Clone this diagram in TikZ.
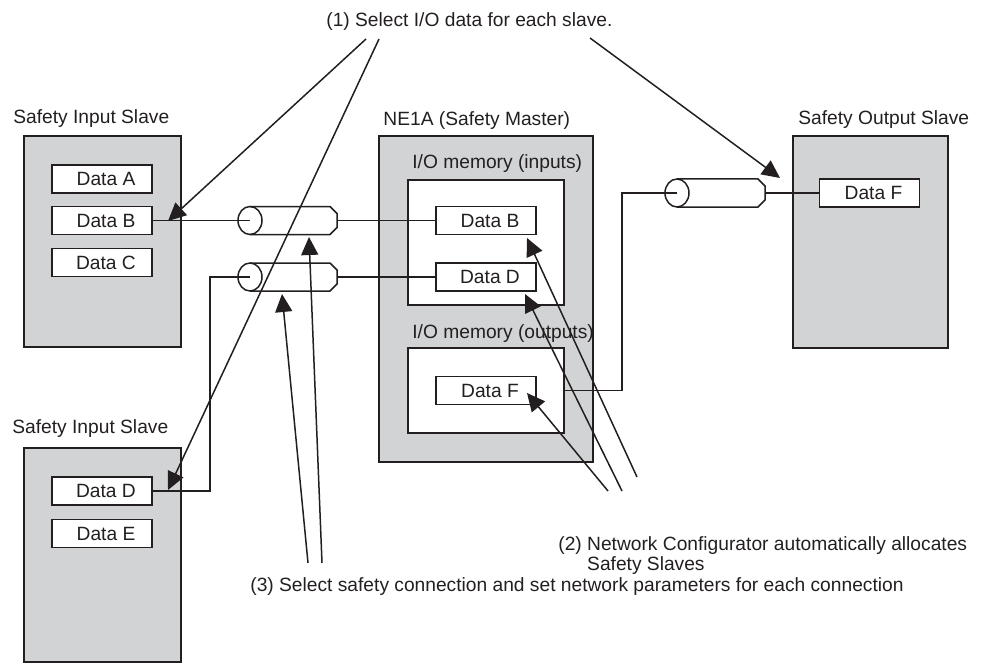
\documentclass[tikz,border=0pt]{standalone}
\usepackage{fontspec}
\setmainfont{Liberation Sans}
\usetikzlibrary{arrows.meta,fit}
\definecolor{boxgray}{RGB}{209,211,212}
\definecolor{ink}{RGB}{35,31,32}
\newcommand\mycyl[4]{%
  \coordinate (#1-l) at (#2,#3);
  \coordinate (#1-r) at (#4,#3);
  \draw[wire] (#2,#3-14) -- (#4-7,#3-14) -- (#4,#3-7) -- (#4,#3+7) -- (#4-7,#3+14) -- (#2,#3+14);
  \draw[wire] (#2,#3) ellipse [x radius=6pt, y radius=7pt];
}
\begin{document}
\begin{tikzpicture}[x=0.5pt,y=-0.5pt,
  font=\fontsize{9.6}{11}\selectfont, text=ink,
  wire/.style={draw=ink, line width=0.75pt},
  arr/.style={wire, -{Triangle[length=9pt,width=8.5pt]}},
  unitbox/.style={draw=ink, line width=1pt, fill=boxgray, inner sep=0pt},
  membox/.style={draw=ink, line width=0.9pt, fill=white, inner sep=0pt},
  databox/.style={draw=ink, line width=0.9pt, fill=white, inner sep=0pt,
    minimum width=50pt, minimum height=14pt, execute at begin node=\hspace*{4pt}},
  lbl/.style={inner sep=0pt, anchor=base west}]
\useasboundingbox (0,0) rectangle (983,663);

% units
\node[unitbox, fit={(24,136) (181,347)}] (s1) {};
\node[unitbox, fit={(24,448) (181,662)}] (s2) {};
\node[unitbox, fit={(379,136) (593,462)}] (m) {};
\node[unitbox, fit={(793,136) (948,348)}] (o) {};
\node[membox, fit={(408,180) (564,305)}] (min) {};
\node[membox, fit={(408,348) (564,433)}] (mout) {};

% labels
\node[lbl] (s1lbl) at (13,124) {Safety Input Slave};
\node[lbl] (s2lbl) at (12,433) {Safety Input Slave};
\node[lbl] (mlbl) at (383,126) {NE1A (Safety Master)};
\node[lbl] (olbl) at (798,125) {Safety Output Slave};
\node[lbl] (minlbl) at (412,169) {I/O memory (inputs)};
\node[lbl] (moutlbl) at (412,338) {I/O memory (outputs)};

% data boxes
\node[databox] (s1a) at (102,179) {Data A};
\node[databox] (s1b) at (102,220.5) {Data B};
\node[databox] (s1c) at (102,262.5) {Data C};
\node[databox] (s2d) at (102,491) {Data D};
\node[databox] (s2e) at (102,533.5) {Data E};
\node[databox] (mB) at (486,220.5) {Data B};
\node[databox] (mD) at (486,277) {Data D};
\node[databox] (mF) at (486,390.5) {Data F};
\node[databox] (oF) at (869.5,193) {Data F};

% cylinders
\mycyl{cylA}{250}{220.5}{337}
\mycyl{cylB}{250}{277}{337}
\mycyl{cylC}{677}{193}{765}

% wires
\draw[wire] (s1b.east) -- (cylA-l);
\draw[wire] (cylA-r) -- (mB.west);
\draw[wire] (cylB-r) -- (mD.west);
\coordinate (bendB) at (210,277);
\draw[wire] (cylB-l) -- (bendB) |- (s2d.east);
\coordinate (bendC) at (622,193);
\draw[wire] (cylC-l) -- (bendC) |- (mout.east);
\draw[wire] (cylC-r) -- (oF.west);

% annotation texts
\node[lbl] (n1) at (326,27) {(1) Select I/O data for each slave.};
\node[lbl, align=left] (n2) at (558,570) {(2) Network Configurator automatically allocates\\[-1pt]\phantom{(2) }Safety Slaves};
\node[lbl] (n3) at (250,591) {(3) Select safety connection and set network parameters for each connection};

% annotation arrows
\coordinate (a1a) at (366,39);  \coordinate (h1a) at (168,221);
\coordinate (a1b) at (379,39);  \coordinate (h1b) at (168,490);
\coordinate (a1c) at (590,38);  \coordinate (h1c) at (780,178);
\draw[arr] (a1a) -- (h1a);
\draw[arr] (a1b) -- (h1b);
\draw[arr] (a1c) -- (h1c);

\coordinate (a2a) at (637,477); \coordinate (h2a) at (527,238);
\coordinate (a2b) at (622,491); \coordinate (h2b) at (525,294);
\coordinate (a2c) at (608,491); \coordinate (h2c) at (527,393);
\draw[arr] (a2a) -- (h2a);
\draw[arr] (a2b) -- (h2b);
\draw[arr] (a2c) -- (h2c);

\coordinate (a3a) at (322,563); \coordinate (h3a) at (309,237);
\coordinate (a3b) at (308,563); \coordinate (h3b) at (282,294);
\draw[arr] (a3a) -- (h3a);
\draw[arr] (a3b) -- (h3b);
\end{tikzpicture}
\end{document}
